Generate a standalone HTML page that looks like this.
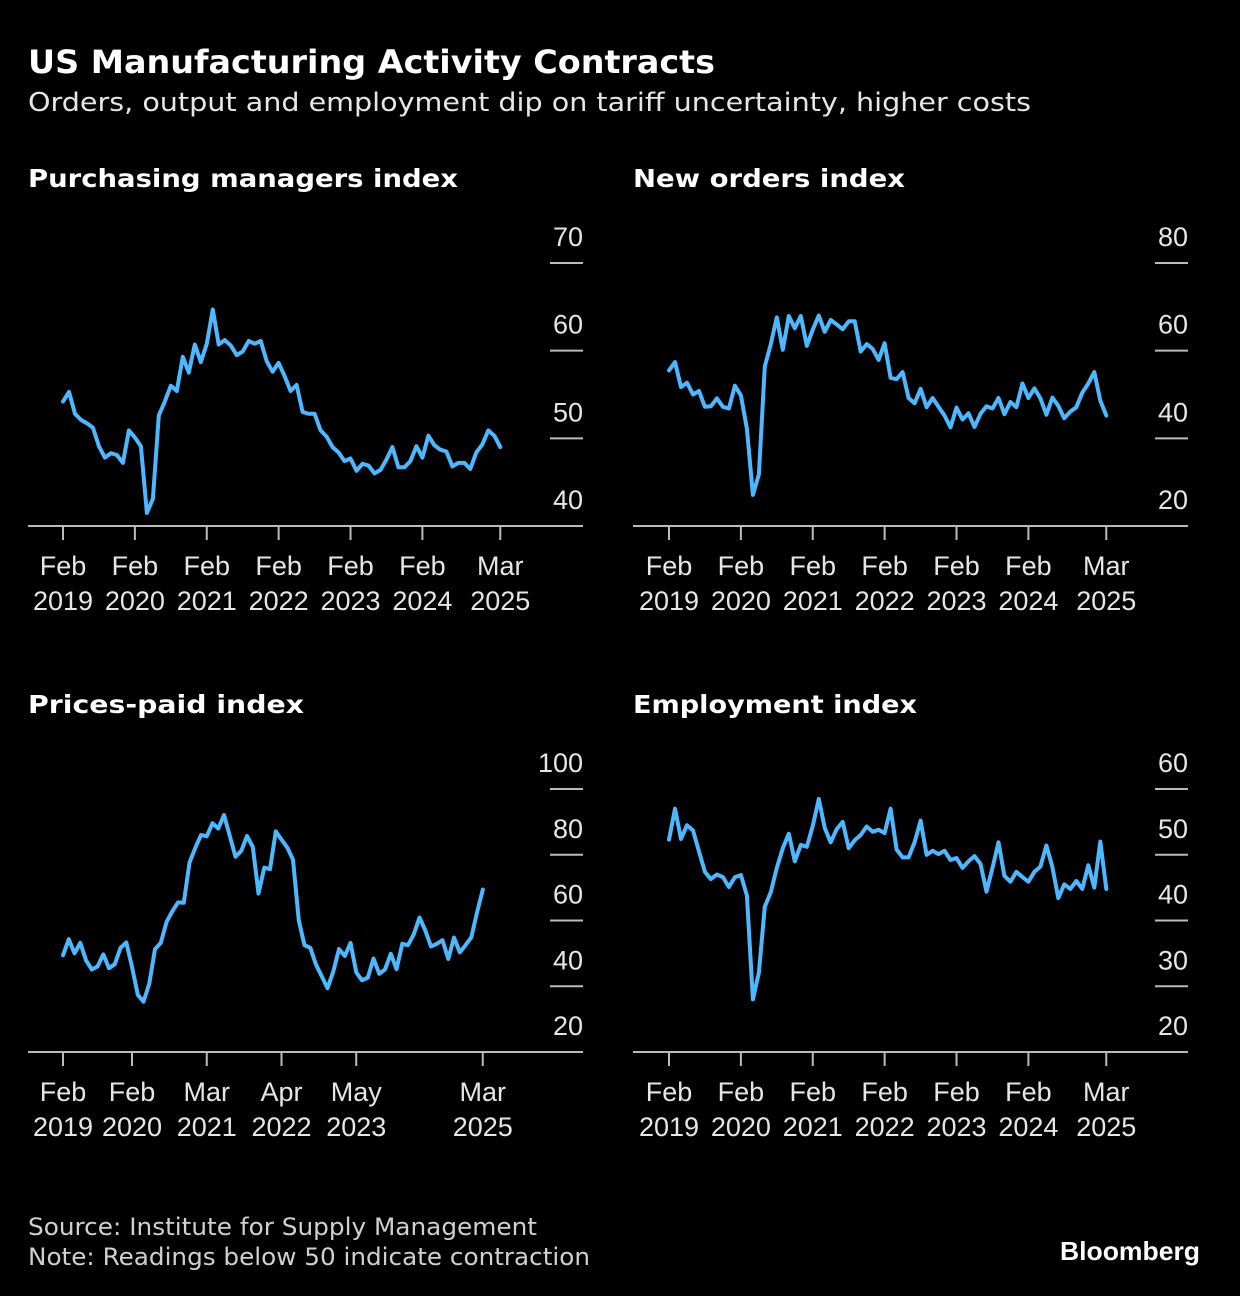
<!DOCTYPE html>
<html><head><meta charset="utf-8">
<style>
html,body{margin:0;padding:0;background:#000;}
svg{display:block;}
text{font-family:"DejaVu Sans","Liberation Sans",sans-serif;fill:#fff;}
.t{font-family:"Liberation Sans",sans-serif;font-size:27px;fill:#e6e6e6;}
.h{font-size:25px;font-weight:bold;}
</style></head>
<body>
<svg id="s" width="1240" height="1296" viewBox="0 0 1240 1296" xmlns="http://www.w3.org/2000/svg">
<rect width="1240" height="1296" fill="#000"/>
<text x="28" y="73" textLength="687" lengthAdjust="spacingAndGlyphs" style="font-size:32px;font-weight:bold">US Manufacturing Activity Contracts</text>
<text x="28" y="111" textLength="1003" lengthAdjust="spacingAndGlyphs" style="font-size:26px;fill:#e6e6e6">Orders, output and employment dip on tariff uncertainty, higher costs</text>
<text class="h" x="28" y="187" textLength="430" lengthAdjust="spacingAndGlyphs">Purchasing managers index</text>
<text class="h" x="633" y="187" textLength="272" lengthAdjust="spacingAndGlyphs">New orders index</text>
<text class="h" x="28" y="713" textLength="276" lengthAdjust="spacingAndGlyphs">Prices-paid index</text>
<text class="h" x="633" y="713" textLength="284" lengthAdjust="spacingAndGlyphs">Employment index</text>
<text x="28" y="1235" textLength="509" lengthAdjust="spacingAndGlyphs" style="font-size:24px;fill:#d0d0d0">Source: Institute for Supply Management</text>
<text x="28" y="1265" textLength="562" lengthAdjust="spacingAndGlyphs" style="font-size:24px;fill:#d0d0d0">Note: Readings below 50 indicate contraction</text>
<text x="1060" y="1260" textLength="140" lengthAdjust="spacingAndGlyphs" style="font-family:'Liberation Sans',sans-serif;font-size:26px;font-weight:bold;">Bloomberg</text>
<g id="g"></g>
</svg>
<script>
const NS="http://www.w3.org/2000/svg";const g=document.getElementById('g');
function el(t,a,txt){const e=document.createElementNS(NS,t);for(const k in a)e.setAttribute(k,a[k]);if(txt!==undefined)e.textContent=txt;g.appendChild(e);return e;}
const pmi=[54.2,55.3,52.8,52.1,51.7,51.2,49.1,47.8,48.3,48.1,47.2,50.9,50.1,49.1,41.5,43.1,52.6,54.2,56.0,55.4,59.3,57.5,60.7,58.7,60.8,64.7,60.7,61.2,60.6,59.5,59.9,61.1,60.8,61.1,58.8,57.6,58.6,57.1,55.4,56.1,53.0,52.8,52.8,50.9,50.2,49.0,48.4,47.4,47.7,46.3,47.1,46.9,46.0,46.4,47.6,49.0,46.7,46.7,47.4,49.1,47.8,50.3,49.2,48.7,48.5,46.8,47.2,47.2,46.5,48.4,49.3,50.9,50.3,49.0];
const no=[55.5,57.4,51.7,52.7,50.0,50.8,47.2,47.3,49.1,47.2,46.8,52.0,49.8,42.2,27.1,31.8,56.4,61.5,67.6,60.2,67.9,65.1,67.9,61.1,64.8,68.0,64.3,67.0,66.0,64.9,66.7,66.7,59.8,61.5,60.4,57.9,61.7,53.8,53.5,55.1,49.2,48.0,51.3,47.1,49.2,47.2,45.2,42.5,47.0,44.3,45.7,42.6,45.6,47.3,46.8,49.2,45.5,48.3,47.1,52.5,49.2,51.4,49.1,45.4,49.3,47.4,44.6,46.1,47.1,50.4,52.5,55.1,48.6,45.2];
const pr=[49.4,54.3,50.0,53.2,47.9,45.1,46.0,49.7,45.5,46.7,51.7,53.3,45.9,37.4,35.3,40.8,51.3,53.2,59.5,62.8,65.5,65.4,77.6,82.1,86.0,85.6,89.6,88.0,92.1,85.7,79.4,81.2,85.7,82.4,68.2,76.1,75.6,87.1,84.6,82.2,78.5,60.0,52.5,51.7,46.6,43.0,39.4,44.5,51.3,49.2,53.2,44.2,41.8,42.6,48.4,43.8,45.1,49.9,45.2,52.9,52.5,55.8,60.9,57.0,52.1,52.9,54.0,48.3,54.8,50.3,52.5,54.9,62.4,69.4];
const em=[52.3,57.0,52.4,54.5,53.7,50.5,47.4,46.3,47.0,46.6,45.1,46.6,46.9,43.8,28.0,32.1,42.1,44.3,48.0,51.0,53.2,49.0,51.5,51.2,54.4,58.5,54.1,51.9,53.9,55.0,51.0,52.2,53.0,54.3,53.5,53.8,53.3,57.0,50.8,49.6,49.6,51.9,55.2,50.0,50.6,50.1,50.6,49.2,49.5,48.0,49.0,49.8,48.6,44.4,48.0,51.9,46.8,45.9,47.4,46.6,45.9,47.4,48.2,51.4,48.1,43.4,45.5,44.8,46.0,44.8,48.4,45.0,52.0,44.8];
function panel(ox,x0,dx,vals,ymin,ymax,ybot,ytop,yt,xt){
  const sy=v=>ybot-(v-ymin)*(ybot-ytop)/(ymax-ymin);
  el('line',{x1:ox,y1:ybot,x2:ox+555,y2:ybot,stroke:'#bbb','stroke-width':2});
  yt.forEach(v=>{const y=sy(v);
    if(y<ybot-1) el('line',{x1:ox+522,y1:y,x2:ox+555,y2:y,stroke:'#bbb','stroke-width':2});
    el('text',{x:ox+555,y:y-17,'text-anchor':'end',class:'t'},String(v));});
  xt.forEach(([m,a,b])=>{const x=x0+m*dx;
    el('line',{x1:x,y1:ybot,x2:x,y2:ybot+14,stroke:'#bbb','stroke-width':2});
    el('text',{x:x,y:ybot+49,'text-anchor':'middle',class:'t'},a);
    el('text',{x:x,y:ybot+84,'text-anchor':'middle',class:'t'},b);});
  el('polyline',{points:vals.map((v,i)=>(x0+i*dx).toFixed(1)+','+sy(v).toFixed(1)).join(' '),fill:'none',stroke:'#4db8ff','stroke-width':4,'stroke-linejoin':'round','stroke-linecap':'round'});
}
const xtA=[[0,'Feb','2019'],[12,'Feb','2020'],[24,'Feb','2021'],[36,'Feb','2022'],[48,'Feb','2023'],[60,'Feb','2024'],[73,'Mar','2025']];
const xtP=[[0,'Feb','2019'],[12,'Feb','2020'],[25,'Mar','2021'],[38,'Apr','2022'],[51,'May','2023'],[73,'Mar','2025']];
panel(28,63,5.99,pmi,40,70,526,263,[70,60,50,40],xtA);
panel(633,669,5.99,no,20,80,526,263,[80,60,40,20],xtA);
panel(28,63,5.75,pr,20,100,1052,789,[100,80,60,40,20],xtP);
panel(633,669,5.99,em,20,60,1052,789,[60,50,40,30,20],xtA);
</script>
</body></html>
